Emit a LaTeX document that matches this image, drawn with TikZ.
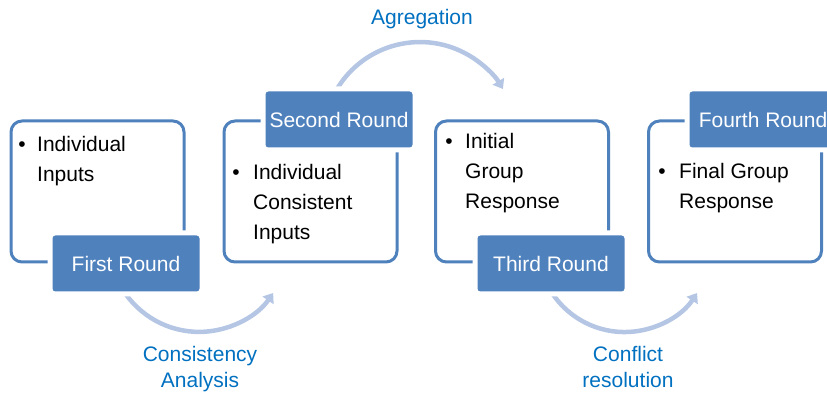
\documentclass[tikz,border=0pt]{standalone}
\usepackage{fontspec}
\setmainfont{Liberation Sans}
\usetikzlibrary{arrows.meta}
\definecolor{boxblue}{RGB}{79,129,189}
\definecolor{arcblue}{RGB}{180,198,228}
\definecolor{textblue}{RGB}{0,112,192}
\tikzset{
  roundbox/.style={draw=boxblue, line width=3pt, rounded corners=11pt, fill=white,
    minimum width=173pt, minimum height=141pt, inner sep=0pt},
  roundlabel/.style={fill=boxblue, text=white, rounded corners=3pt,
    minimum width=147pt, minimum height=56pt, inner sep=0pt,
    preaction={draw=white, line width=10pt},
    font=\fontsize{21}{25}\selectfont},
  bodytext/.style={anchor=base west, inner sep=0pt, font=\fontsize{21}{30}\selectfont},
  bulletmark/.style={anchor=base, inner sep=0pt, font=\fontsize{21}{30}\selectfont},
  steplabel/.style={anchor=base, inner sep=0pt, text=textblue, font=\fontsize{21}{26}\selectfont},
  arcarrow/.style={draw=arcblue, line width=4.5pt, -{Triangle[length=9pt,width=13pt]}}
}
\begin{document}
\begin{tikzpicture}[x=1pt,y=1pt]
\useasboundingbox (0,0) rectangle (827,396);
\clip (0,0) rectangle (827,396);

% arcs
\coordinate (a1s) at (125,103);
\coordinate (a2s) at (337,307);
\coordinate (a3s) at (552,103);
\draw[arcarrow] (a1s) arc[start angle=214.6, end angle=325.4, radius=90];
\draw[arcarrow] (a2s) arc[start angle=149, end angle=31, radius=96.8];
\draw[arcarrow] (a3s) arc[start angle=213.4, end angle=326.6, radius=86.9];

% boxes
\node[roundbox] (box1) at (97.5,204.5) {};
\node[roundbox] (box2) at (310.5,204.5) {};
\node[roundbox] (box3) at (522,204.5) {};
\node[roundbox] (box4) at (735,204.5) {};

% labels
\node[roundlabel] (lab1) at ([xshift=28.5pt]box1.south) {First Round};
\node[roundlabel] (lab2) at ([xshift=28.5pt]box2.north) {Second Round};
\node[roundlabel] (lab3) at ([xshift=29pt]box3.south) {Third Round};
\node[roundlabel] (lab4) at ([xshift=28pt]box4.north) {Fourth Round};

% box texts
\node[bulletmark] (b1) at (22,244) {•};
\node[bodytext] (t11) at (37,244) {Individual};
\node[bodytext] (t12) at (37,214) {Inputs};

\node[bulletmark] (b2) at (236,216) {•};
\node[bodytext] (t21) at (253,216) {Individual};
\node[bodytext] (t22) at (253,186) {Consistent};
\node[bodytext] (t23) at (253,156) {Inputs};

\node[bulletmark] (b3) at (449,247) {•};
\node[bodytext] (t31) at (465,247) {Initial};
\node[bodytext] (t32) at (465,217) {Group};
\node[bodytext] (t33) at (465,187) {Response};

\node[bulletmark] (b4) at (662,217) {•};
\node[bodytext] (t41) at (679,217) {Final Group};
\node[bodytext] (t42) at (679,187) {Response};

% step labels
\node[steplabel] (s1) at (422,371) {Agregation};
\node[steplabel] (s2a) at (200,34) {Consistency};
\node[steplabel] (s2b) at (200,8.5) {Analysis};
\node[steplabel] (s3a) at (628,34) {Conflict};
\node[steplabel] (s3b) at (628,8) {resolution};
\end{tikzpicture}
\end{document}
